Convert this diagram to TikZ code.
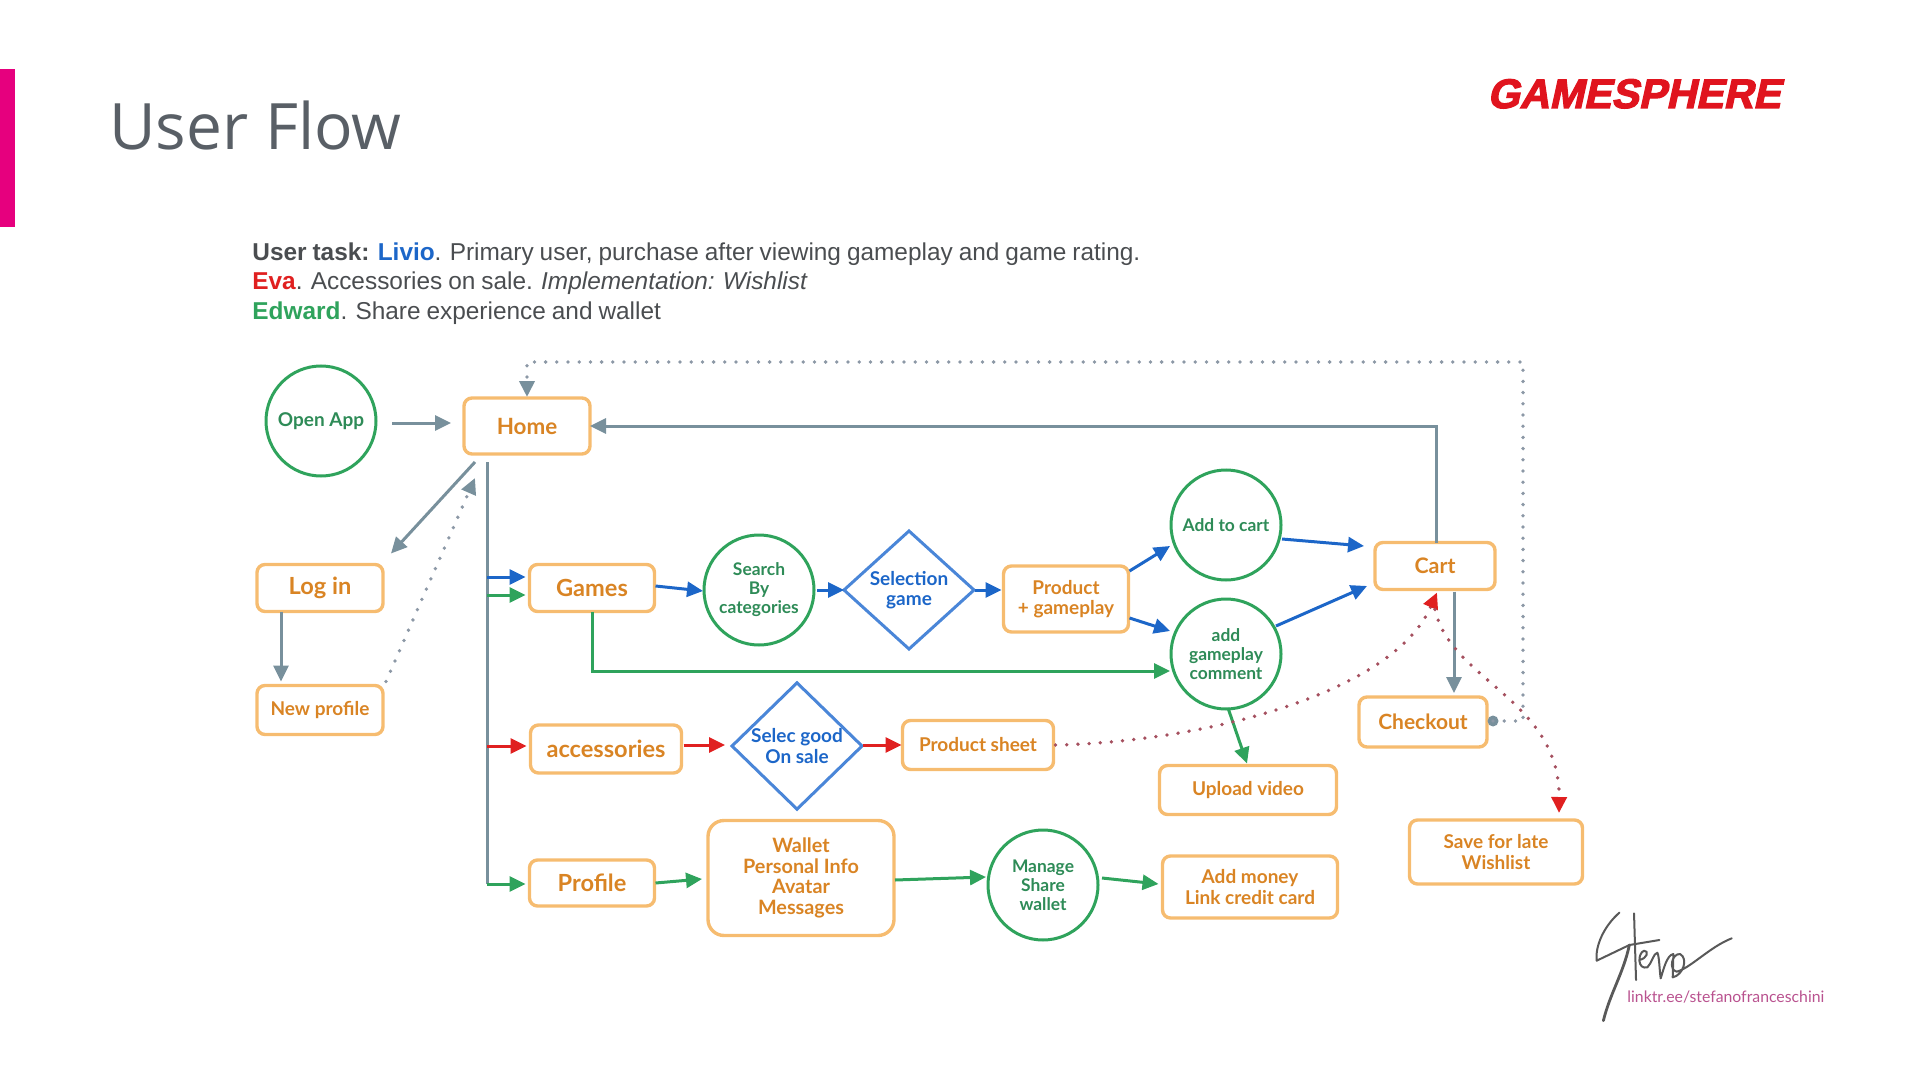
\documentclass[tikz,border=0pt]{standalone}
\usepackage{fontspec}
\usepackage{tikz}
\usetikzlibrary{arrows.meta,shapes.geometric}
\setmainfont{Liberation Sans}[WordSpace=0.88]
\newfontfamily\titlefont{Open Sans}
\newfontfamily\flowfont{Lato}
\newfontfamily\logofont{Liberation Sans Bold}[FakeBold=3,FakeSlant=0.22]
\newcommand*\largelabel{\fontsize{11.8}{13}\selectfont\bfseries}
\newcommand*\midlabel{\fontsize{9.5}{10.2}\selectfont\bfseries}
\newcommand*\smalllabel{\fontsize{8.7}{9.5}\selectfont\bfseries}
\definecolor{barpink}{HTML}{E6007E}
\definecolor{titlegray}{HTML}{595F66}
\definecolor{textgray}{HTML}{4A4D50}
\definecolor{logored}{HTML}{E0141E}
\definecolor{boxorange}{HTML}{F6BC70}
\definecolor{labelorange}{HTML}{D98424}
\definecolor{flowgreen}{HTML}{2FA35C}
\definecolor{labelgreen}{HTML}{2E8B57}
\definecolor{flowblue}{HTML}{1C66C8}
\definecolor{diamondblue}{HTML}{4A86D8}
\definecolor{flowgray}{HTML}{78909C}
\definecolor{flowred}{HTML}{E02020}
\definecolor{dotgray}{HTML}{8C98A6}
\definecolor{dotred}{HTML}{A5505F}
\definecolor{linkpink}{HTML}{B9528F}
\tikzset{
    flowbox/.style 2 args = {draw=boxorange,line width=1.7pt,rounded corners=4pt,
                    minimum width=#1*0.5pt,minimum height=#2*0.5pt,
                    inner sep=0pt,outer sep=0pt,align=center,
                    text=labelorange,font=\flowfont\midlabel},
    bigbox/.style 2 args = {flowbox={#1}{#2},font=\flowfont\largelabel},
    flowcircle/.style = {draw=flowgreen,line width=1.5pt,circle,minimum size=55pt,
                    inner sep=0pt,outer sep=0pt,align=center,
                    text=labelgreen,font=\flowfont\smalllabel},
    flowdiamond/.style = {draw=diamondblue,line width=1.5pt,diamond,minimum width=65pt,
                    minimum height=59pt,inner sep=0pt,outer sep=0pt,align=center,
                    text=flowblue,font=\flowfont\midlabel},
    arrowline/.style = {line width=1.5pt,-{Triangle[length=8pt,width=7.5pt]}},
    grayflow/.style  = {arrowline,draw=flowgray},
    blueflow/.style  = {arrowline,draw=flowblue},
    greenflow/.style = {arrowline,draw=flowgreen},
    redflow/.style   = {arrowline,draw=flowred},
    dotline/.style   = {line width=1.9pt,line cap=round,dash pattern=on 0pt off 5.6pt},
    graydots/.style  = {dotline,draw=dotgray,-{Triangle[length=8pt,width=7.5pt,color=flowgray]}},
    reddots/.style   = {dotline,draw=dotred,-{Triangle[length=8pt,width=7.5pt,color=flowred]}},
}

\begin{document}
\begin{tikzpicture}[x=0.5pt,y=-0.5pt]
    \useasboundingbox (0,0) rectangle (1920,1080);

    % Slide header
    \fill[barpink] (0,69) rectangle (15,227);
    \node[anchor=base west,inner sep=0pt,text=titlegray,font=\titlefont\fontsize{32}{40}\selectfont]
        (title) at (109,150) {User Flow};
    \node[anchor=base west,inner sep=0pt,text=logored,font=\logofont\fontsize{20.6}{24}\selectfont]
        (logo) at (1487,108) {GAMESPHERE};

    % User task text
    \node[anchor=north west,inner sep=0pt,align=left,text=textgray,
          font=\fontsize{12.2}{14.75}\selectfont] (usertask) at (252,242) {%
        \textbf{User task:} \textbf{\textcolor{flowblue}{Livio}}. Primary user, purchase after viewing gameplay and game rating.\\
        \textbf{\textcolor{flowred}{Eva}}. Accessories on sale. \textit{Implementation: Wishlist}\\
        \textbf{\textcolor{flowgreen}{Edward}}. Share experience and wallet};

    % Nodes, first column
    \node[flowcircle,font=\flowfont\midlabel] (openapp) at (321,421) {Open App};
    \node[bigbox={126}{56},font=\flowfont\fontsize{11.2}{13}\selectfont\bfseries] (home) at (527,426) {Home};
    \node[bigbox={126}{47}] (login) at (320,588) {Log in};
    \node[flowbox={126}{49}] (newprofile) at (320,710) {New profile};

    % Games row
    \node[bigbox={125}{47}] (games) at (592,588) {Games};
    \node[flowcircle] (search) at (759,590) {Search\\By\\categories};
    \node[flowdiamond] (selection) at (909,590) {Selection\\game};
    \node[flowbox={125}{66}] (product) at (1066,599) {Product\\+ gameplay};
    \node[flowcircle] (addcart) at (1226,525) {Add to cart};
    \node[flowcircle] (addcomment) at (1226,654) {add\\gameplay\\comment};
    \node[flowbox={120}{47},font=\flowfont\fontsize{10.7}{12}\selectfont\bfseries] (cart) at (1435,566) {Cart};
    \node[flowbox={128}{50},font=\flowfont\fontsize{10.5}{12}\selectfont\bfseries] (checkout) at (1423,722) {Checkout};
    \node[flowbox={177}{49}] (upload) at (1248,790) {Upload video};
    \node[flowbox={173}{64}] (wishlist) at (1496,852) {Save for late\\Wishlist};

    % Accessories row
    \node[bigbox={151}{48}] (accessories) at (606,749) {accessories};
    \node[flowdiamond] (selecgood) at (797,746) {Selec good\\On sale};
    \node[flowbox={151}{49}] (sheet) at (978,745) {Product sheet};

    % Profile row
    \node[bigbox={125}{46}] (profile) at (592,883) {Profile};
    \node[flowbox={186}{115},rounded corners=8pt,font=\flowfont\fontsize{9.9}{10.4}\selectfont\bfseries] (wallet) at (801,878)
        {Wallet\\Personal Info\\Avatar\\Messages};
    \node[flowcircle] (manage) at (1043,885) {Manage\\Share\\wallet};
    \node[flowbox={175}{62}] (addmoney) at (1250,887) {Add money\\Link credit card};

    % Gray connectors
    \draw[grayflow] ([shift={(16,2)}]openapp.east) -- ([shift={(-13,-3)}]home.west);
    \draw[grayflow] ([shift={(1,0)}]cart.north) |- (home.east);
    \draw[grayflow] ([shift={(11,8)}]home.south west) -- ([shift={(8,-11)}]login.north east);
    \draw[grayflow] ([shift={(-39,0)}]login.south) -- ([shift={(-39,-4)}]newprofile.north);
    \draw[grayflow] ([shift={(19,2)}]cart.south) -- ([shift={(31,-4)}]checkout.north);

    % Spine down from home, with its branches
    \coordinate (spineblue) at (487,577);
    \coordinate (spinegreen) at (487,595);
    \coordinate (spinered) at (487,746);
    \coordinate (spineend) at (487,884);
    \draw[line width=1.5pt,draw=flowgray] ([shift={(23,8)}]home.south west) -- (spineend);
    \draw[blueflow] (spineblue) -- ([shift={(-4,-11)}]games.west);
    \draw[greenflow] (spinegreen) -- ([shift={(-4,7)}]games.west);
    \draw[redflow] (spinered) -- ([shift={(-4,-3)}]accessories.west);
    \draw[greenflow] (spineend) -- ([shift={(-4,1)}]profile.west);

    % Blue connectors
    \draw[blueflow] ([shift={(1,-2)}]games.east) -- ([shift={(-1,1)}]search.west);
    \draw[blueflow] ([shift={(3,0)}]search.east) -- (selection.west);
    \draw[blueflow] ([shift={(1,0)}]selection.east) -- ([shift={(-2,-9)}]product.west);
    \draw[blueflow] ([shift={(1,-28)}]product.east) -- ([shift={(-1,21)}]addcart.west);
    \draw[blueflow] ([shift={(1,19)}]product.east) -- ([shift={(-1,-23)}]addcomment.west);
    \draw[blueflow] ([shift={(1,14)}]addcart.east) -- ([shift={(-11,-20)}]cart.west);
    \draw[blueflow] ([shift={(-5,-28)}]addcomment.east) -- ([shift={(-8,20)}]cart.west);

    % Green connectors
    \draw[greenflow] (games.south) |- ([shift={(-1,17)}]addcomment.west);
    \draw[greenflow] ([shift={(2,-1)}]addcomment.south) -- ([shift={(-1,-2)}]upload.north);
    \draw[greenflow] ([shift={(1,0)}]profile.east) -- ([shift={(-6,1)}]wallet.west);
    \draw[greenflow] ([shift={(1,2)}]wallet.east) -- ([shift={(-2,-8)}]manage.west);
    \draw[greenflow] ([shift={(4,-7)}]manage.east) -- ([shift={(-4,-3)}]addmoney.west);

    % Red connectors
    \draw[redflow] ([shift={(2,-4)}]accessories.east) -- ([shift={(-7,-1)}]selecgood.west);
    \draw[redflow] ([shift={(1,-1)}]selecgood.east) -- ([shift={(-1,0)}]sheet.west);

    % Dotted connectors
    \draw[reddots] ([shift={(2,0)}]sheet.east) .. controls (1200,742) and (1392,695) .. ([shift={(2,3)}]cart.south);
    \draw[reddots] ([shift={(0,20)}]cart.south) .. controls (1450,680) and (1560,700) .. ([shift={(63,-7)}]wishlist.north);
    \draw[graydots] ([shift={(3,-4)}]newprofile.north east) -- ([shift={(11,24)}]home.south west);

    % Checkout back to home
    \fill[flowgray] ([shift={(6,-1)}]checkout.east) coordinate (checkoutdot) circle (5.5);
    \draw[graydots] (checkoutdot) -- ++(30,0) -- ++(0,-359) -| ([shift={(0,-1)}]home.north);

    % Signature
    \begin{scope}[shift={(1560,890)},x=0.1667pt,y=-0.1667pt,draw=black!65,line width=1pt,line cap=round,line join=round]
        \draw (178,68) .. controls (130,110) and (105,170) .. (110,212) -- (208,165) -- (298,150);
        \draw[line width=1.4pt] (208,165) .. controls (190,250) and (150,310) .. (130,392);
        \draw (222,70) -- (228,270);
        \draw (238,210) .. controls (262,205) and (268,182) .. (252,182) .. controls (232,190) and (232,240) .. (262,232)
              .. controls (275,220) and (280,190) .. (292,188) .. controls (298,200) and (298,240) .. (302,265)
              .. controls (310,240) and (320,195) .. (340,192) -- (338,262)
              .. controls (370,255) and (385,205) .. (360,192) .. controls (335,190) and (325,240) .. (350,245)
              .. controls (390,235) and (450,170) .. (515,145);
    \end{scope}
    \node[anchor=base west,inner sep=0pt,text=linkpink,font=\flowfont\fontsize{7.9}{9}\selectfont]
        (signlink) at (1627,1002) {linktr.ee/stefanofranceschini};
\end{tikzpicture}
\end{document}
